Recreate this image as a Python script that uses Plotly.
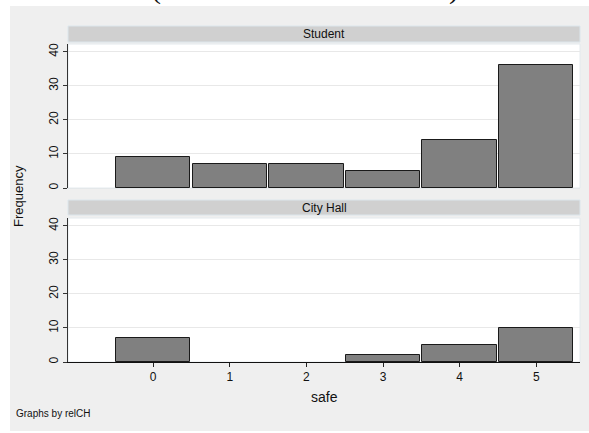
import plotly.graph_objects as go

categories = [0, 1, 2, 3, 4, 5]
student = [9, 7, 7, 5, 14, 36]
city_hall = [7, 0, 0, 2, 5, 10]
panel_labels = ["Student", "City Hall"]
y_ticks = [0, 10, 20, 30, 40]

W, H = 589, 433
L, R, T, B = 68, 9, 26, 71
PH = H - T - B  # plot height in px


def py(p):
    """pixel y -> paper y"""
    return (H - B - p) / PH


def px(p):
    return (p - L) / (W - L - R)


fig = go.Figure()


def bar(xs, ys, xa, ya):
    return go.Bar(x=xs, y=ys, xaxis=xa, yaxis=ya, width=0.97, showlegend=False,
                  marker=dict(color="#808080",
                              line=dict(color="#1a1a1a", width=[1 if v else 0 for v in ys])),
                  hoverinfo="x+y")


fig.add_trace(bar(categories, student, "x", "y"))
fig.add_trace(bar(categories, city_hall, "x2", "y2"))

xr = [-1.11, 5.57]
yr = [0, 42.3]
tickfont = dict(family="Liberation Sans, Arial, sans-serif", size=12, color="#111")
yaxis_common = dict(range=yr, tickvals=y_ticks, tickangle=-90, ticks="outside", ticklen=4,
                    tickcolor="#333", showline=True, linecolor="#333", linewidth=1,
                    showgrid=True, gridcolor="#e8e8e8", gridwidth=1, zeroline=False,
                    tickfont=tickfont, fixedrange=True)

fig.update_layout(
    width=W, height=H,
    margin=dict(l=L, r=R, t=T, b=B, pad=0),
    paper_bgcolor="white", plot_bgcolor="white",
    bargap=0,
    xaxis=dict(domain=[0, 1], range=xr, anchor="y", showticklabels=False, ticks="",
               showline=True, linecolor="#e4e8ea", showgrid=False, zeroline=False),
    yaxis=dict(domain=[py(188), py(44)], anchor="x", **yaxis_common),
    xaxis2=dict(domain=[0, 1], range=xr, anchor="y2", tickvals=categories, ticks="outside",
                ticklen=4, tickcolor="#222", showline=True, linecolor="#111", linewidth=1,
                showgrid=False, zeroline=False, tickfont=tickfont),
    yaxis2=dict(domain=[0, py(218)], anchor="x2", **yaxis_common),
    font=dict(family="Liberation Sans, Arial, sans-serif", color="#111"),
)

shapes = [
    # grey background frame
    dict(type="rect", xref="paper", yref="paper", x0=px(10), x1=px(589), y0=py(431), y1=py(6),
         fillcolor="#efefef", line=dict(width=0), layer="below"),
    # plot area whites
    dict(type="rect", xref="paper", yref="paper", x0=0, x1=1, y0=py(188), y1=py(44),
         fillcolor="white", line=dict(color="#e4eaee", width=1), layer="below"),
    dict(type="rect", xref="paper", yref="paper", x0=0, x1=1, y0=py(362), y1=py(218),
         fillcolor="white", line=dict(color="#e4eaee", width=1), layer="below"),
    # strips
    dict(type="rect", xref="paper", yref="paper", x0=0, x1=1, y0=py(42), y1=py(26),
         fillcolor="#d0d0d0", line=dict(color="#dce6ec", width=1), layer="below"),
    dict(type="rect", xref="paper", yref="paper", x0=0, x1=1, y0=py(215), y1=py(200),
         fillcolor="#d0d0d0", line=dict(color="#dce6ec", width=1), layer="below"),
]
fig.update_layout(shapes=shapes)

afont = dict(family="Liberation Sans, Arial, sans-serif", size=12, color="#111")
annotations = [
    dict(text=panel_labels[0], x=0.5, y=py(34), xref="paper", yref="paper",
         showarrow=False, font=afont, xanchor="center", yanchor="middle"),
    dict(text=panel_labels[1], x=0.5, y=py(207.5), xref="paper", yref="paper",
         showarrow=False, font=afont, xanchor="center", yanchor="middle"),
    dict(text="Frequency", x=px(18), y=py(196), xref="paper", yref="paper", textangle=-90,
         showarrow=False, font=dict(family="Liberation Sans, Arial, sans-serif", size=13, color="#111"),
         xanchor="center", yanchor="middle"),
    dict(text="safe", x=px(324), y=py(397), xref="paper", yref="paper",
         showarrow=False, font=dict(family="Liberation Sans, Arial, sans-serif", size=14, color="#111"),
         xanchor="center", yanchor="middle"),
    dict(text="Graphs by relCH", x=px(14), y=py(414), xref="paper", yref="paper",
         showarrow=False, font=dict(family="Liberation Sans, Arial, sans-serif", size=10, color="#111"),
         xanchor="left", yanchor="middle"),
    # cut-off title parentheses at top
    dict(text="(", x=px(156), y=py(6.5), xref="paper", yref="paper", showarrow=False,
         font=dict(family="Liberation Serif, serif", size=30, color="#111"),
         xanchor="center", yanchor="bottom"),
    dict(text=")", x=px(454), y=py(6.5), xref="paper", yref="paper", showarrow=False,
         font=dict(family="Liberation Serif, serif", size=30, color="#111"),
         xanchor="center", yanchor="bottom"),
]
fig.update_layout(annotations=annotations)

fig.write_html("out.html", config={"displayModeBar": False},
               post_script="document.body.style.margin='0';document.body.style.padding='0';")
